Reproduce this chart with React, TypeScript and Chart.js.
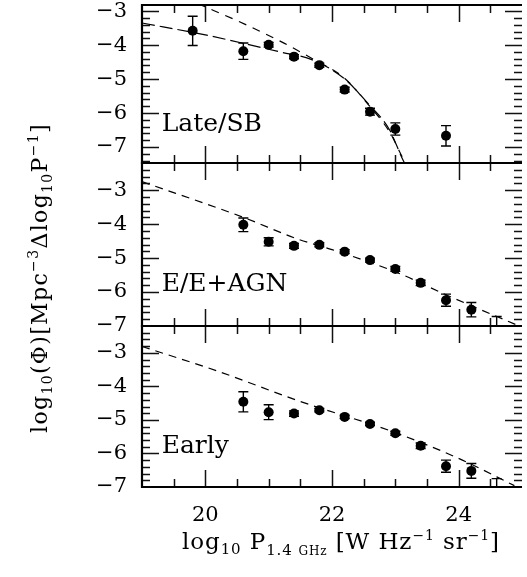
import React, { useEffect, useRef } from "react";
import { Chart, registerables } from "chart.js";
Chart.register(...registerables);

const FONT = '"DejaVu Serif", serif';
const W = 527;
const H = 577;

// x axis
const X_MIN = 19;
const X_MAX = 25;
const xTickLabels = [20, 22, 24];
const yTickLabels = [-3, -4, -5, -6, -7];

// Late/SB panel
const lateX = [19.8, 20.6, 21.0, 21.4, 21.8, 22.2, 22.6, 23.0, 23.8];
const lateY = [-3.58, -4.18, -3.99, -4.34, -4.59, -5.31, -5.96, -6.47, -6.67];
const lateErr = [0.43, 0.24, 0.07, 0.06, 0.06, 0.07, 0.1, 0.18, 0.3];
const lateFitAX = [19.88, 20.63, 21.25, 21.67, 22.19, 22.55, 22.91, 23.12, 23.2];
const lateFitAY = [-2.78, -3.39, -3.95, -4.38, -4.96, -5.7, -6.56, -7.33, -7.6];
const lateFitBX = [19.0, 20.0, 21.2, 21.67, 22.19, 22.55, 22.91, 23.1, 23.18];
const lateFitBY = [-3.35, -3.7, -4.21, -4.42, -4.98, -5.68, -6.5, -7.3, -7.6];

// E/E+AGN panel
const eX = [20.6, 21.0, 21.4, 21.8, 22.2, 22.6, 23.0, 23.4, 23.8, 24.2, 24.6];
const eY = [-4.02, -4.52, -4.64, -4.61, -4.81, -5.06, -5.32, -5.73, -6.24, -6.52, -7.3];
const eErr = [0.2, 0.12, 0.07, 0.06, 0.06, 0.06, 0.07, 0.08, 0.18, 0.21, 0.58];
const eFitX = [19.0, 20.6, 21.46, 22.0, 23.02, 23.8, 24.93];
const eFitY = [-2.75, -3.8, -4.44, -4.75, -5.42, -6.08, -6.98];

// Early panel
const earlyX = [20.6, 21.0, 21.4, 21.8, 22.2, 22.6, 23.0, 23.4, 23.8, 24.2, 24.6];
const earlyY = [-4.46, -4.77, -4.81, -4.71, -4.91, -5.12, -5.4, -5.77, -6.38, -6.52, -7.3];
const earlyErr = [0.3, 0.22, 0.08, 0.05, 0.05, 0.05, 0.06, 0.08, 0.18, 0.22, 0.55];
const earlyFitX = [19.0, 20.2, 21.5, 23.0, 24.05, 24.88];
const earlyFitY = [-2.81, -3.55, -4.45, -5.38, -6.19, -6.96];

type Curve = { xs: number[]; ys: number[]; dash: number[] };
type PanelCfg = {
  top: number;
  bottom: number;
  yMin: number;
  yMax: number;
  label: string;
  labelX: number;
  labelY: number;
  xs: number[];
  ys: number[];
  err: number[];
  curves: Curve[];
};

const panels: PanelCfg[] = [
  {
    top: 2, bottom: 163, yMin: -7.47, yMax: -2.82,
    label: "Late/SB", labelX: 19.31, labelY: -6.52,
    xs: lateX, ys: lateY, err: lateErr,
    curves: [
      { xs: lateFitAX, ys: lateFitAY, dash: [8, 7] },
      { xs: lateFitBX, ys: lateFitBY, dash: [13, 5] },
    ],
  },
  {
    top: 163, bottom: 326, yMin: -7, yMax: -2.2,
    label: "E/E+AGN", labelX: 19.31, labelY: -5.98,
    xs: eX, ys: eY, err: eErr,
    curves: [{ xs: eFitX, ys: eFitY, dash: [8, 6] }],
  },
  {
    top: 326, bottom: 487, yMin: -7, yMax: -2.2,
    label: "Early", labelX: 19.31, labelY: -5.98,
    xs: earlyX, ys: earlyY, err: earlyErr,
    curves: [{ xs: earlyFitX, ys: earlyFitY, dash: [8, 6] }],
  },
];

type Seg = { t: string; s: number; dy: number };

const xTitle: Seg[] = [
  { t: "log", s: 23, dy: 0 },
  { t: "10", s: 15, dy: 5 },
  { t: " P", s: 23, dy: 0 },
  { t: "1.4 ", s: 15, dy: 6 },
  { t: "GHz", s: 12, dy: 6 },
  { t: " [W Hz", s: 23, dy: 0 },
  { t: "\u22121", s: 14, dy: -9 },
  { t: " sr", s: 23, dy: 0 },
  { t: "\u22121", s: 14, dy: -9 },
  { t: "]", s: 23, dy: 0 },
];

const yTitle: Seg[] = [
  { t: "log", s: 22, dy: 0 },
  { t: "10", s: 14, dy: 5 },
  { t: "(\u03A6)[Mpc", s: 22, dy: 0 },
  { t: "\u22123", s: 14, dy: -9 },
  { t: "\u0394log", s: 22, dy: 0 },
  { t: "10", s: 14, dy: 5 },
  { t: "P", s: 22, dy: 0 },
  { t: "\u22121", s: 14, dy: -9 },
  { t: "]", s: 22, dy: 0 },
];

function drawRich(ctx: CanvasRenderingContext2D, segs: Seg[], cx: number, baseY: number, target: number) {
  const c: any = ctx;
  const measure = (sp: number) => {
    let w = 0;
    for (const g of segs) {
      ctx.font = `${g.s}px ${FONT}`;
      c.letterSpacing = sp + "px";
      w += ctx.measureText(g.t).width;
    }
    return w;
  };
  const n = segs.reduce((a, g) => a + Array.from(g.t).length, 0);
  const w0 = measure(0);
  const sp = (target - w0) / n;
  const total = measure(sp);
  let x = cx - total / 2;
  ctx.textAlign = "left";
  ctx.textBaseline = "alphabetic";
  ctx.fillStyle = "#000";
  for (const g of segs) {
    ctx.font = `${g.s}px ${FONT}`;
    c.letterSpacing = sp + "px";
    ctx.fillText(g.t, x, baseY + g.dy);
    x += ctx.measureText(g.t).width;
  }
  c.letterSpacing = "0px";
}

function range(a: number, b: number, step: number) {
  const out: number[] = [];
  for (let v = a; v <= b + 1e-9; v += step) out.push(Math.round(v * 1000) / 1000);
  return out;
}

function makeChart(canvas: HTMLCanvasElement, idx: number) {
  const p = panels[idx];
  const isBottom = idx === panels.length - 1;

  const decor = {
    id: "decor" + idx,
    beforeDatasetsDraw(chart: any) {
      const ctx: CanvasRenderingContext2D = chart.ctx;
      const a = chart.chartArea;
      const xs = chart.scales.x;
      const ys = chart.scales.y;
      ctx.save();
      ctx.beginPath();
      ctx.rect(a.left, a.top, a.right - a.left, a.bottom - a.top);
      ctx.clip();
      ctx.strokeStyle = "#000";
      ctx.lineWidth = 1.4;
      p.xs.forEach((xv, k) => {
        const px = xs.getPixelForValue(xv);
        const y1 = ys.getPixelForValue(p.ys[k] + p.err[k]);
        const y2 = ys.getPixelForValue(p.ys[k] - p.err[k]);
        ctx.beginPath();
        ctx.moveTo(px, y1);
        ctx.lineTo(px, y2);
        ctx.moveTo(px - 5, y1);
        ctx.lineTo(px + 5, y1);
        ctx.moveTo(px - 5, y2);
        ctx.lineTo(px + 5, y2);
        ctx.stroke();
      });
      ctx.restore();
    },
    afterDraw(chart: any) {
      const ctx: CanvasRenderingContext2D = chart.ctx;
      const a = chart.chartArea;
      const xs = chart.scales.x;
      const ys = chart.scales.y;
      ctx.save();
      // ticks
      ctx.strokeStyle = "#111";
      ctx.lineWidth = 1.5;
      const xMinor = range(X_MIN, X_MAX, 0.5);
      xMinor.forEach((v) => {
        if (v <= X_MIN || v >= X_MAX) return;
        const major = Math.abs(v / 2 - Math.round(v / 2)) < 1e-6;
        const len = major ? 17 : 8;
        const px = Math.round(xs.getPixelForValue(v)) + 0.5;
        ctx.beginPath();
        ctx.moveTo(px, a.top);
        ctx.lineTo(px, a.top + len);
        ctx.moveTo(px, a.bottom);
        ctx.lineTo(px, a.bottom - len);
        ctx.stroke();
      });
      const yTicks = range(-8, -2, 0.2);
      yTicks.forEach((v) => {
        if (v <= p.yMin + 0.01 || v >= p.yMax - 0.01) return;
        const major = Math.abs(v - Math.round(v)) < 1e-6;
        const len = major ? 17 : 8;
        const py = Math.round(ys.getPixelForValue(v)) + 0.5;
        ctx.beginPath();
        ctx.moveTo(a.left, py);
        ctx.lineTo(a.left + len, py);
        ctx.moveTo(a.right, py);
        ctx.lineTo(a.right - len, py);
        ctx.stroke();
      });
      // frame
      ctx.strokeStyle = "#000";
      ctx.lineWidth = 2.2;
      ctx.beginPath();
      ctx.moveTo(a.right, a.top);
      ctx.lineTo(a.left, a.top);
      ctx.lineTo(a.left, a.bottom);
      ctx.lineTo(a.right, a.bottom);
      ctx.stroke();
      // panel label
      ctx.fillStyle = "#000";
      ctx.font = `25px ${FONT}`;
      ctx.textAlign = "left";
      ctx.textBaseline = "alphabetic";
      ctx.fillText(p.label, xs.getPixelForValue(p.labelX), ys.getPixelForValue(p.labelY));
      if (isBottom) {
        drawRich(ctx, xTitle, 341, 549, 318);
        ctx.save();
        ctx.translate(47, 278);
        ctx.rotate(-Math.PI / 2);
        drawRich(ctx, yTitle, 0, 0, 310);
        ctx.restore();
      }
      ctx.restore();
    },
  };

  const datasets: any[] = [
    {
      data: p.xs.map((x, k) => ({ x, y: p.ys[k] })),
      showLine: false,
      pointRadius: 5,
      pointHoverRadius: 5,
      pointBackgroundColor: "#000",
      pointBorderWidth: 0,
      borderColor: "#000",
      backgroundColor: "#000",
    },
    ...p.curves.map((c) => ({
      data: c.xs.map((x, k) => ({ x, y: c.ys[k] })),
      showLine: true,
      pointRadius: 0,
      pointHoverRadius: 0,
      borderColor: "#000",
      borderWidth: 1.2,
      borderDash: c.dash,
      fill: false,
      cubicInterpolationMode: "monotone",
    })),
  ];

  return new Chart(canvas, {
    type: "scatter",
    data: { datasets },
    options: {
      animation: false,
      responsive: false,
      events: [],
      layout: {
        padding: { top: p.top, bottom: isBottom ? 0 : H - p.bottom, left: 0, right: 0 },
      },
      plugins: { legend: { display: false }, tooltip: { enabled: false } },
      scales: {
        x: {
          type: "linear",
          position: "bottom",
          min: X_MIN,
          max: X_MAX,
          display: isBottom,
          afterBuildTicks: (s: any) => {
            s.ticks = xTickLabels.map((v) => ({ value: v }));
          },
          ticks: {
            padding: 16,
            color: "#000",
            font: { family: FONT, size: 21 },
            maxRotation: 0,
            autoSkip: false,
            callback: (v: any) => String(Math.round(Number(v))),
          },
          grid: { display: false, drawTicks: false },
          border: { display: false },
          afterFit: (s: any) => {
            if (isBottom) s.height = H - p.bottom;
            s.paddingLeft = 0;
            s.paddingRight = 0;
          },
        },
        y: {
          type: "linear",
          min: p.yMin,
          max: p.yMax,
          afterBuildTicks: (s: any) => {
            s.ticks = yTickLabels.filter((v) => v >= p.yMin && v <= p.yMax).map((v) => ({ value: v }));
          },
          ticks: {
            padding: 15,
            color: "#000",
            font: { family: FONT, size: 21 },
            callback: (v: any) => "\u2212" + Math.abs(Math.round(Number(v))),
          },
          grid: { display: false, drawTicks: false },
          border: { display: false },
          afterFit: (s: any) => {
            s.width = 142;
            s.paddingTop = 0;
            s.paddingBottom = 0;
          },
        },
      },
    } as any,
    plugins: [decor],
  });
}

export default function App() {
  const r1 = useRef<HTMLCanvasElement>(null);
  const r2 = useRef<HTMLCanvasElement>(null);
  const r3 = useRef<HTMLCanvasElement>(null);
  useEffect(() => {
    const refs = [r1, r2, r3];
    const charts = refs.map((r, i) => makeChart(r.current as HTMLCanvasElement, i));
    return () => charts.forEach((c) => c.destroy());
  }, []);
  return (
    <div style={{ position: "fixed", left: 0, top: 0, width: W, height: H, background: "#fff", overflow: "hidden" }}>
      {[r1, r2, r3].map((r, i) => (
        <canvas
          key={i}
          ref={r}
          width={W}
          height={H}
          style={{ position: "absolute", left: 0, top: 0, width: W, height: H }}
        />
      ))}
    </div>
  );
}
